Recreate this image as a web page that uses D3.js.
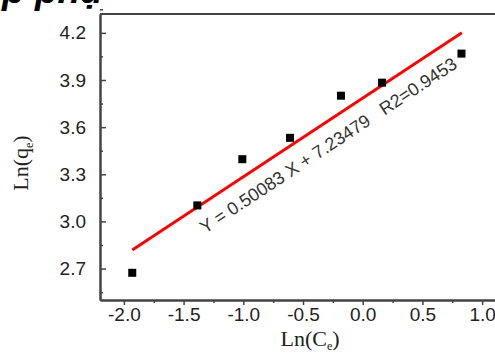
<!DOCTYPE html>
<html>
<head>
<meta charset="utf-8">
<script src="https://cdn.jsdelivr.net/npm/d3@7"></script>
<style>
  body { margin: 0; background: #fff; }
  svg { display: block; }
</style>
</head>
<body>
<div id="chart"></div>
<script>
// --- Data ---
const lnCe = [-1.93, -1.385, -1.008, -0.609, -0.182, 0.162, 0.827];
const lnQe = [2.673, 3.102, 3.396, 3.532, 3.800, 3.883, 4.068];
const fitSlope = 0.50083;
const fitIntercept = 3.785;       // where the drawn line sits on the plot
const fitRange = [-1.93, 0.83];
const xTicks = [-2.0, -1.5, -1.0, -0.5, 0.0, 0.5, 1.0];
const yTicks = [2.7, 3.0, 3.3, 3.6, 3.9, 4.2];
const eqLabel = "Y = 0.50083 X + 7.23479   R2=0.9453";

// --- Setup ---
const width = 495, height = 354;
const margin = {top: 14, right: -11, bottom: 54, left: 100};

const svg = d3.select("#chart").append("svg")
  .attr("width", width)
  .attr("height", height);

const x = d3.scaleLinear().domain([-2.2, 1.2]).range([margin.left, width - margin.right]);
const y = d3.scaleLinear().domain([2.5, 4.32]).range([height - margin.bottom, margin.top]);

// plain hyphen minus, like the original
const fmt = d => d3.format(".1f")(d).replace("\u2212", "-");

// title fragment cut off at top
svg.append("text")
  .attr("x", 2).attr("y", 3)
  .attr("font-family", "Liberation Sans, Arial, sans-serif")
  .attr("font-weight", "bold").attr("font-style", "italic")
  .attr("font-size", 37)
  .text("p phụ");

// --- Axes ---
const axisColor = "#444";
const tickFont = "Liberation Sans, Arial, sans-serif";

const xAxis = svg.append("g")
  .attr("transform", `translate(0,${y.range()[0]})`)
  .call(d3.axisBottom(x).tickValues(xTicks).tickFormat(fmt).tickSize(5).tickSizeOuter(0));
const xMinor = svg.append("g")
  .attr("transform", `translate(0,${y.range()[0]})`)
  .call(d3.axisBottom(x).tickValues(xTicks.map(d => d + 0.25)).tickFormat("").tickSize(3).tickSizeOuter(0));

const yAxis = svg.append("g")
  .attr("transform", `translate(${x.range()[0]},0)`)
  .call(d3.axisLeft(y).tickValues(yTicks).tickFormat(fmt).tickSize(-6).tickPadding(14).tickSizeOuter(0));
const yMinor = svg.append("g")
  .attr("transform", `translate(${x.range()[0]},0)`)
  .call(d3.axisLeft(y).tickValues([2.55].concat(yTicks.map(d => d + 0.15))).tickFormat("").tickSize(-3).tickSizeOuter(0));

[xAxis, xMinor, yAxis, yMinor].forEach(g => {
  g.select(".domain").attr("stroke", axisColor).attr("stroke-width", 2);
  g.selectAll(".tick line").attr("stroke", axisColor).attr("stroke-width", 1.5);
  g.selectAll(".tick text")
    .attr("font-family", tickFont)
    .attr("font-size", 19)
    .attr("fill", "#222");
});
xAxis.selectAll(".tick text").attr("dy", "0.71em").attr("y", 8);

// top frame line
svg.append("line")
  .attr("x1", x.range()[0]).attr("x2", x.range()[1])
  .attr("y1", y.range()[1]).attr("y2", y.range()[1])
  .attr("stroke", axisColor).attr("stroke-width", 2);

// --- Axis titles ---
const xt = svg.append("text")
  .attr("x", 310).attr("y", 346)
  .attr("text-anchor", "middle")
  .attr("font-family", "Liberation Serif, Times New Roman, serif")
  .attr("font-size", 22).attr("fill", "#222");
xt.append("tspan").text("Ln(C");
xt.append("tspan").attr("font-size", 12).attr("dy", 4).text("e");
xt.append("tspan").attr("dy", -4).text(")");

const yt = svg.append("text")
  .attr("transform", "translate(28,163) rotate(-90)")
  .attr("text-anchor", "middle")
  .attr("font-family", "Liberation Serif, Times New Roman, serif")
  .attr("font-size", 22).attr("fill", "#222");
yt.append("tspan").text("Ln(q");
yt.append("tspan").attr("font-size", 12).attr("dy", 5).text("e");
yt.append("tspan").attr("dy", -5).text(")");

// --- Fit line ---
svg.append("line")
  .attr("x1", x(fitRange[0])).attr("y1", y(fitSlope * fitRange[0] + fitIntercept))
  .attr("x2", x(fitRange[1])).attr("y2", y(fitSlope * fitRange[1] + fitIntercept))
  .attr("stroke", "#ff0000").attr("stroke-width", 2.8);

// --- Points ---
const pts = d3.zip(lnCe, lnQe);
svg.append("g").selectAll("rect")
  .data(pts)
  .join("rect")
  .attr("x", d => x(d[0]) - 4)
  .attr("y", d => y(d[1]) - 4)
  .attr("width", 8).attr("height", 8)
  .attr("fill", "#000");

// --- Equation label ---
const angle = -Math.atan((y(fitIntercept) - y(fitIntercept + fitSlope)) / (x(1) - x(0))) * 180 / Math.PI;
svg.append("text")
  .attr("transform", `translate(205,234) rotate(${angle})`)
  .attr("font-family", tickFont)
  .attr("font-size", 18).attr("fill", "#333")
  .style("white-space", "pre")
  .text(eqLabel);
</script>
</body>
</html>
